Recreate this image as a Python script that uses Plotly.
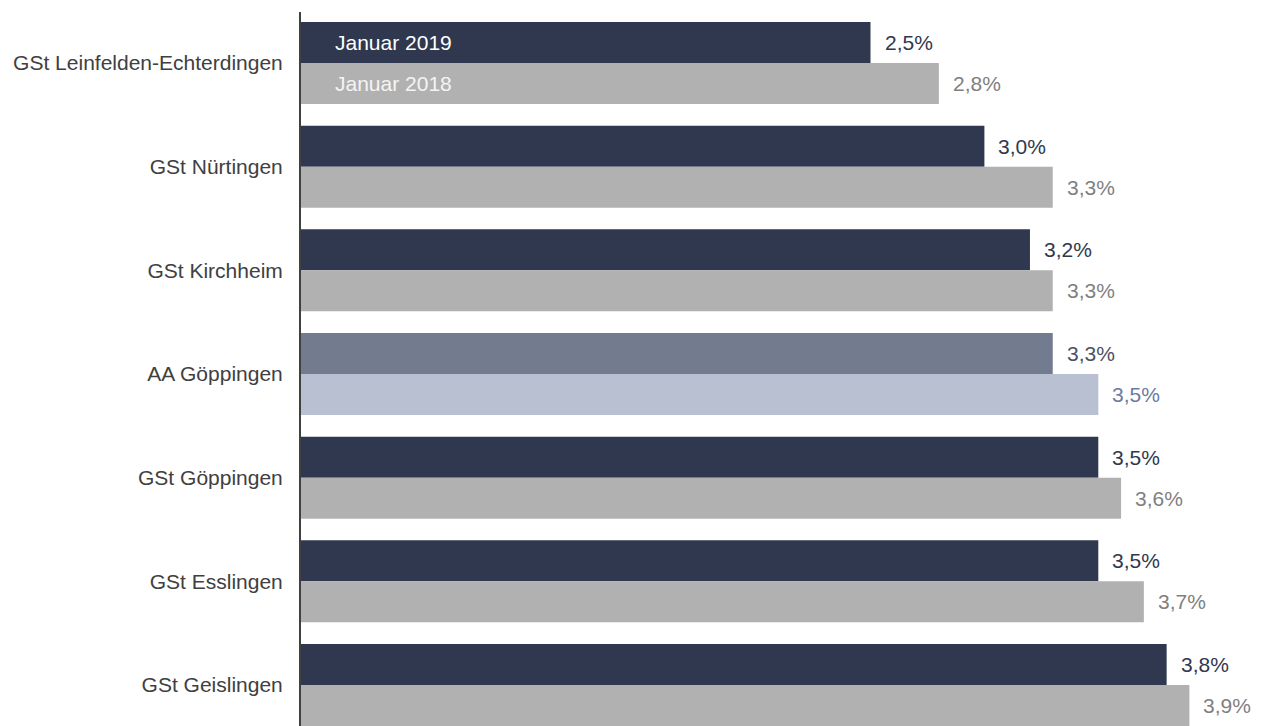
import plotly.graph_objects as go

categories = ["GSt Leinfelden-Echterdingen", "GSt Nürtingen", "GSt Kirchheim",
              "AA Göppingen", "GSt Göppingen", "GSt Esslingen", "GSt Geislingen"]
jan2019 = [2.5, 3.0, 3.2, 3.3, 3.5, 3.5, 3.8]
jan2018 = [2.8, 3.3, 3.3, 3.5, 3.6, 3.7, 3.9]
series_names = ["Januar 2019", "Januar 2018"]
highlight = "AA Göppingen"

C19, C18 = "#2f384e", "#b1b1b1"
C19H, C18H = "#737b8f", "#b9c0d1"
L19, L18 = "#2f384e", "#7f7f7f"
L19H, L18H = "#4b5163", "#6b7aa4"

FONT = "Arial, Liberation Sans, sans-serif"
W, H = 1262, 726
ML, MT = 301, 12
PX_PER_UNIT = 227.8
pitch = 103.67

col19 = [C19H if c == highlight else C19 for c in categories]
col18 = [C18H if c == highlight else C18 for c in categories]

fig = go.Figure()
fig.add_trace(go.Bar(y=categories, x=jan2019, orientation="h", name=series_names[0],
                     marker=dict(color=col19, line=dict(width=0)), hoverinfo="x+y"))
fig.add_trace(go.Bar(y=categories, x=jan2018, orientation="h", name=series_names[1],
                     marker=dict(color=col18, line=dict(width=0)), hoverinfo="x+y"))

half = 20.6
for c, v in zip(categories, jan2019):
    fig.add_annotation(x=v, y=c, text=f"{v:.1f}".replace(".", ",") + "%", showarrow=False,
                       xanchor="left", xshift=12, yshift=half,
                       font=dict(family=FONT, size=21, color=L19H if c == highlight else L19))
for c, v in zip(categories, jan2018):
    fig.add_annotation(x=v, y=c, text=f"{v:.1f}".replace(".", ",") + "%", showarrow=False,
                       xanchor="left", xshift=12, yshift=-half,
                       font=dict(family=FONT, size=21, color=L18H if c == highlight else L18))

fig.add_annotation(x=0, y=categories[0], text=series_names[0], showarrow=False,
                   xanchor="left", xshift=32, yshift=half,
                   font=dict(family=FONT, size=21, color="#ffffff"))
fig.add_annotation(x=0, y=categories[0], text=series_names[1], showarrow=False,
                   xanchor="left", xshift=32, yshift=-half,
                   font=dict(family=FONT, size=21, color="#f4f4f4"))

plot_w = W - ML
top = -(63 - MT) / pitch
bottom = 6 + (H - 685) / pitch

fig.update_layout(
    width=W, height=H,
    margin=dict(l=ML, r=0, t=MT, b=0, pad=0),
    barmode="group", bargap=0.209, bargroupgap=0,
    plot_bgcolor="white", paper_bgcolor="white",
    showlegend=False,
    font=dict(family=FONT, size=21, color="#404040"),
    xaxis=dict(range=[0, plot_w / PX_PER_UNIT], visible=False, showgrid=False, zeroline=False),
    yaxis=dict(type="category", categoryorder="array", categoryarray=categories,
               range=[bottom, top], showgrid=False, zeroline=False,
               showline=True, linecolor="#404040", linewidth=2,
               ticks="", ticklabelstandoff=12,
               tickfont=dict(family=FONT, size=21, color="#404040")),
)

fig.write_html("out.html")
